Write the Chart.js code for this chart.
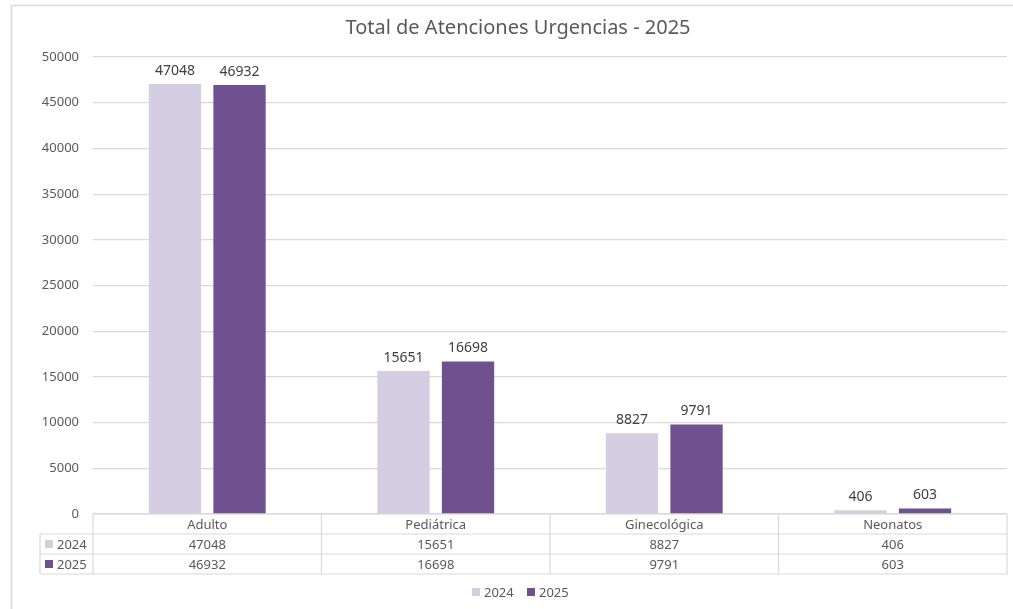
<!DOCTYPE html>
<html>
<head>
<meta charset="utf-8">
<script src="https://cdn.jsdelivr.net/npm/chart.js@4.4.1/dist/chart.umd.min.js"></script>
<style>
  html,body{margin:0;padding:0;background:#fff;}
  #wrap{width:1013px;height:609px;position:relative;}
</style>
</head>
<body>
<div id="wrap"><canvas id="c" width="1013" height="609"></canvas></div>
<script>
const categories = ["Adulto","Pediátrica","Ginecológica","Neonatos"];
const values2024 = [47048,15651,8827,406];
const values2025 = [46932,16698,9791,603];
const seriesNames = ["2024","2025"];
const yTicks = [0,5000,10000,15000,20000,25000,30000,35000,40000,45000,50000];
const chartTitle = "Total de Atenciones Urgencias - 2025";

const colors = ["#d5cde1","#6f5190"];
const font = "'Noto Sans', 'DejaVu Sans', sans-serif";
const txt = "#595959";
const lineCol = "#d9d9d9";

// frame, title, data labels, data table, legend
const extras = {
  id:'extras',
  afterDraw(chart){
    const ctx = chart.ctx, ca = chart.chartArea, xs = chart.scales.x;
    ctx.save();
    // outer frame
    ctx.strokeStyle = "#d9d9d9"; ctx.lineWidth = 1.5;
    ctx.beginPath(); ctx.moveTo(11.5,609); ctx.lineTo(11.5,5.5); ctx.lineTo(1013,5.5); ctx.stroke();

    // title
    ctx.fillStyle = txt; ctx.font = "20px " + font;
    ctx.textAlign = "center"; ctx.textBaseline = "middle";
    ctx.fillText(chartTitle, 518, 28);

    // value labels
    ctx.font = "14px " + font; ctx.fillStyle = "#404040";
    chart.data.datasets.forEach((ds,di)=>{
      chart.getDatasetMeta(di).data.forEach((bar,i)=>{
        ctx.fillText(String(ds.data[i]), bar.x, bar.y - 13);
      });
    });

    // data table
    const top = ca.bottom, rowH = 20, left = 40;
    const step = xs.getPixelForValue(1) - xs.getPixelForValue(0);
    const bounds = categories.map((_,i)=>xs.getPixelForValue(i) - step/2);
    bounds.push(xs.getPixelForValue(categories.length-1) + step/2);
    ctx.strokeStyle = lineCol; ctx.lineWidth = 1.2;
    ctx.beginPath();
    ctx.moveTo(ca.left, top); ctx.lineTo(ca.right, top);
    for (let r=1;r<=3;r++){ ctx.moveTo(left, top + r*rowH); ctx.lineTo(ca.right, top + r*rowH); }
    bounds.forEach(b=>{ ctx.moveTo(b, top); ctx.lineTo(b, top + 3*rowH); });
    ctx.moveTo(left, top + rowH); ctx.lineTo(left, top + 3*rowH);
    ctx.stroke();

    ctx.fillStyle = txt; ctx.font = "13px " + font; ctx.textAlign = "center";
    categories.forEach((c,i)=>{
      const cx = (bounds[i]+bounds[i+1])/2;
      ctx.fillText(c, cx, top + rowH/2 + 1);
      ctx.fillText(String(values2024[i]), cx, top + rowH*1.5 + 1);
      ctx.fillText(String(values2025[i]), cx, top + rowH*2.5 + 1);
    });
    ctx.textAlign = "left";
    seriesNames.forEach((s,k)=>{
      const cy = top + rowH*(1.5+k);
      ctx.fillStyle = colors[k]; ctx.fillRect(45, cy-4, 8, 8);
      ctx.fillStyle = txt; ctx.fillText(s, 57, cy + 1);
    });

    // legend
    let lx = 472;
    seriesNames.forEach((s,k)=>{
      ctx.fillStyle = colors[k]; ctx.fillRect(lx, 588, 8, 8);
      ctx.fillStyle = txt; ctx.fillText(s, lx + 12, 593);
      lx += 55;
    });
    ctx.restore();
  }
};

new Chart(document.getElementById('c'),{
  type:'bar',
  data:{
    labels:categories,
    datasets:[
      {label:seriesNames[0], data:values2024, backgroundColor:colors[0]},
      {label:seriesNames[1], data:values2025, backgroundColor:colors[1]}
    ]
  },
  options:{
    responsive:false,
    animation:false,
    layout:{padding:{left:11,right:6,top:57,bottom:95}},
    datasets:{bar:{categoryPercentage:0.565,barPercentage:0.81}},
    plugins:{legend:{display:false},title:{display:false},tooltip:{enabled:false}},
    scales:{
      x:{display:false},
      y:{
        min:0,max:50000,
        afterFit(s){ s.width = 82; },
        afterBuildTicks(s){ s.ticks = yTicks.map(v=>({value:v})); },
        border:{display:false},
        grid:{color:lineCol,lineWidth:1.2,drawTicks:false},
        ticks:{color:txt,font:{family:font,size:13},padding:14,callback:v=>String(v)}
      }
    }
  },
  plugins:[extras]
});
</script>
</body>
</html>
